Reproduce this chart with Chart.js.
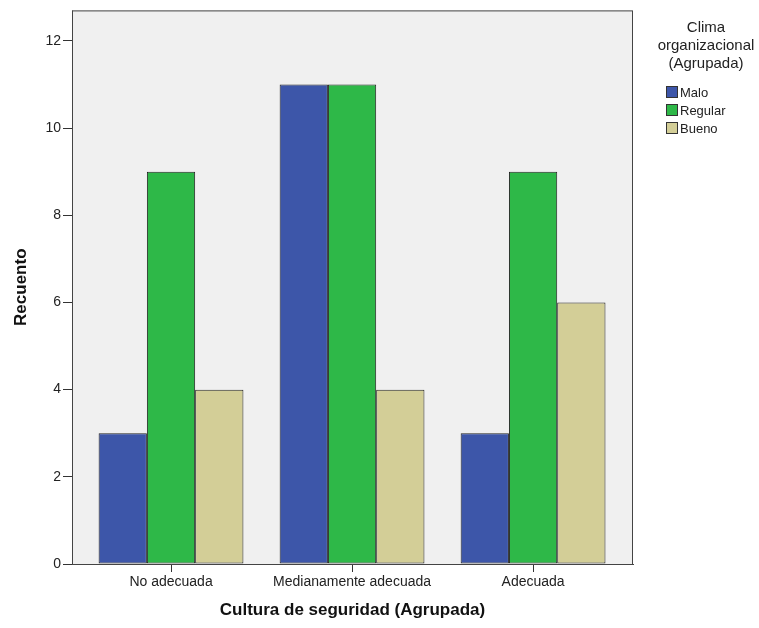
<!DOCTYPE html>
<html>
<head>
<meta charset="utf-8">
<script src="https://cdn.jsdelivr.net/npm/chart.js@4"></script>
<style>
  html, body { margin: 0; padding: 0; background: #fff; }
  #wrap { width: 759px; height: 628px; }
</style>
</head>
<body>
<div id="wrap"><canvas id="chart" width="759" height="628"></canvas></div>
<script>
const categories = ["No adecuada", "Medianamente adecuada", "Adecuada"];
const seriesNames = ["Malo", "Regular", "Bueno"];
const malo = [3, 11, 3];
const regular = [9, 11, 9];
const bueno = [4, 4, 6];
const yTicks = [0, 2, 4, 6, 8, 10, 12];

const colors = ["#3D56A9", "#2EB848", "#D3CE97"];
const legendTitle = ["Clima", "organizacional", "(Agrupada)"];

const toPoints = (vals) => vals.map((v, i) => ({ x: i, y: v }));

// grey plot background + frame
const frame = {
  id: "frame",
  beforeDatasetsDraw(chart) {
    const { ctx, chartArea: a } = chart;
    ctx.save();
    ctx.fillStyle = "#F0F0F0";
    ctx.fillRect(a.left, a.top, a.right - a.left, a.bottom - a.top);
    ctx.restore();
  },
  afterDatasetsDraw(chart) {
    const { ctx, chartArea: a } = chart;
    ctx.save();
    ctx.strokeStyle = "#444";
    ctx.lineWidth = 1;
    ctx.strokeRect(a.left + 0.5, a.top + 0.5, a.right - a.left - 1, a.bottom - a.top);
    ctx.restore();
  }
};

// legend with multi-line title, drawn beside the plot
const sideLegend = {
  id: "sideLegend",
  afterDraw(chart) {
    const { ctx, chartArea: a } = chart;
    const cx = a.right + 73;
    ctx.save();
    ctx.fillStyle = "#222";
    ctx.font = "15px 'Liberation Sans', Arial, sans-serif";
    ctx.textAlign = "center";
    ctx.textBaseline = "middle";
    legendTitle.forEach((t, i) => ctx.fillText(t, cx, 28 + i * 18));
    ctx.font = "13px 'Liberation Sans', Arial, sans-serif";
    ctx.textAlign = "left";
    chart.data.datasets.forEach((ds, i) => {
      const y = 92 + i * 18;
      ctx.fillStyle = ds.backgroundColor;
      ctx.fillRect(a.right + 33, y - 6, 12, 12);
      ctx.strokeStyle = "#333";
      ctx.strokeRect(a.right + 33.5, y - 5.5, 11, 11);
      ctx.fillStyle = "#222";
      ctx.fillText(ds.label, a.right + 47, y + 1);
    });
    ctx.restore();
  }
};

const font = "'Liberation Sans', Arial, sans-serif";

new Chart(document.getElementById("chart"), {
  type: "bar",
  data: {
    datasets: [malo, regular, bueno].map((vals, i) => ({
      label: seriesNames[i],
      data: toPoints(vals),
      backgroundColor: colors[i],
      borderColor: "#222",
      borderWidth: 1,
      borderSkipped: false,
      categoryPercentage: 0.8,
      barPercentage: 1.0
    }))
  },
  options: {
    responsive: false,
    animation: false,
    layout: { padding: { left: 11, top: 9, right: 126, bottom: 7 } },
    plugins: {
      legend: { display: false },
      tooltip: { enabled: false }
    },
    scales: {
      x: {
        type: "linear",
        offset: false,
        min: -0.547,
        max: 2.552,
        afterBuildTicks: (s) => { s.ticks = categories.map((c, i) => ({ value: i })); },
        afterFit: (s) => { s.height = 628 - 564 - 7; },
        grid: { offset: false, drawOnChartArea: false, drawTicks: true, tickLength: 8, color: "#333" },
        border: { display: true, color: "#444" },
        ticks: {
          callback: (v) => categories[v] ?? "",
          color: "#222",
          font: { family: font, size: 14 },
          padding: 2,
          maxRotation: 0,
          autoSkip: false
        },
        title: {
          display: true,
          text: "Cultura de seguridad (Agrupada)",
          color: "#111",
          font: { family: font, size: 17, weight: "bold" },
          padding: { top: 6, bottom: 0 }
        }
      },
      y: {
        min: 0,
        max: 12.7,
        afterBuildTicks: (s) => { s.ticks = yTicks.map((v) => ({ value: v })); },
        afterFit: (s) => { s.width = 61; },
        grid: { drawOnChartArea: false, drawTicks: true, tickLength: 9, color: "#333" },
        border: { display: true, color: "#444" },
        ticks: {
          color: "#222",
          font: { family: font, size: 14 },
          padding: 2
        },
        title: {
          display: true,
          text: "Recuento",
          color: "#111",
          font: { family: font, size: 17, weight: "bold" },
          padding: { top: 0, bottom: 4 }
        }
      }
    }
  },
  plugins: [frame, sideLegend]
});
</script>
</body>
</html>
